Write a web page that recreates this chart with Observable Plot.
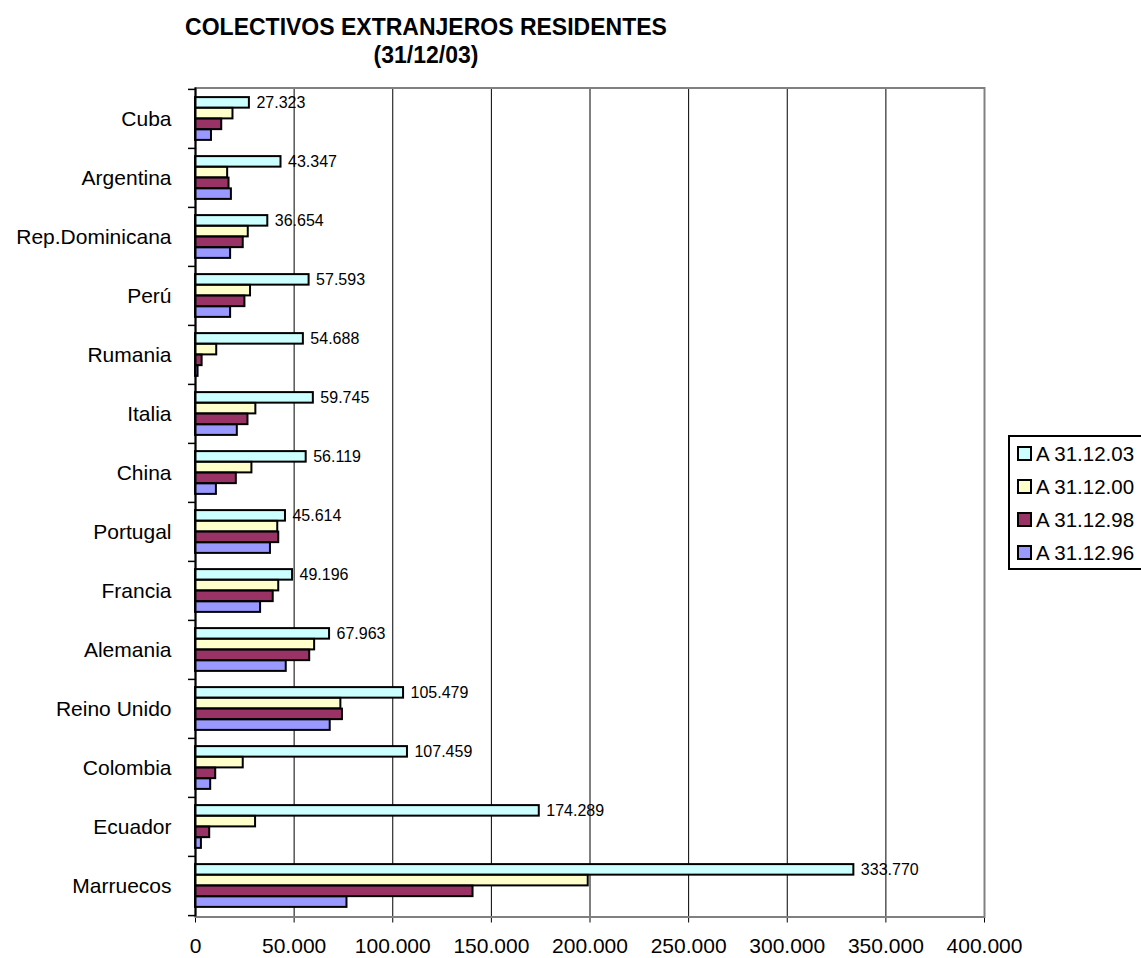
<!DOCTYPE html>
<html>
<head>
<meta charset="utf-8">
<script src="https://cdn.jsdelivr.net/npm/d3@7"></script>
<script src="https://cdn.jsdelivr.net/npm/@observablehq/plot@0.6"></script>
<style>
  html, body { margin: 0; padding: 0; background: #fff; overflow: hidden; }
  body { width: 1141px; height: 958px; position: relative; font-family: "Liberation Sans", Arial, sans-serif; }
  #title { height: 80px; box-sizing: border-box; padding-top: 14px; width: 852px; text-align: center;
           font-weight: bold; font-size: 23px; line-height: 27.5px; color: #000; }
  #legend { position: absolute; left: 1008px; top: 435px; width: 160px; height: 131px;
            border: 2px solid #000; box-sizing: content-box; background: #fff; }
  .item { height: 33px; display: flex; align-items: center; font-size: 20.5px; color: #000; }
  .sw { width: 11px; height: 11px; border: 2px solid #000; margin-left: 7px; margin-right: 4px; flex: none; }
</style>
</head>
<body>
<div id="title">COLECTIVOS EXTRANJEROS RESIDENTES<br>(31/12/03)</div>
<div id="chart"></div>
<div id="legend"></div>
<script>
// ---- data ----
const countries = ["Cuba", "Argentina", "Rep.Dominicana", "Perú", "Rumania", "Italia", "China",
  "Portugal", "Francia", "Alemania", "Reino Unido", "Colombia", "Ecuador", "Marruecos"];
const seriesNames = ["A 31.12.03", "A 31.12.00", "A 31.12.98", "A 31.12.96"];
const a2003 = [27323, 43347, 36654, 57593, 54688, 59745, 56119, 45614, 49196, 67963, 105479, 107459, 174289, 333770];
const a2000 = [19000, 16300, 26750, 27900, 10760, 30600, 28600, 41700, 42200, 60400, 73700, 24200, 30450, 199100];
const a1998 = [13300, 17000, 24200, 25050, 3350, 26600, 20700, 42200, 39400, 57900, 74500, 10250, 7200, 140700];
const a1996 = [8100, 18200, 17800, 17800, 1300, 21200, 10600, 38000, 33000, 46000, 68300, 7700, 3000, 76800];
const xTicks = [0, 50000, 100000, 150000, 200000, 250000, 300000, 350000, 400000];
const seriesColors = ["#CCFFFF", "#FFFFCC", "#993366", "#9999FF"];

const seriesValues = [a2003, a2000, a1998, a1996];
const rows = seriesNames.map((s, k) => countries.map((c, i) => ({country: c, series: s, value: seriesValues[k][i]})));

// ---- layout ----
const W = 1141, H = 878;
const mL = 195, mR = 157, mT = 7.5, mB = 41.5;
const bw = (H - mT - mB) / countries.length;   // band height
const barH = 10.75;
const groupPad = (bw - 4 * barH) / 2;
const pxPerUnit = (W - mL - mR) / 400000;
const tickLenUnits = 7 / pxPerUnit;

const fmt = d => d3.format(",")(d).replace(/,/g, ".");

const barMarks = seriesNames.map((s, k) => Plot.barX(rows[k], {
  x: "value", y: "country",
  fill: seriesColors[k], stroke: "#000", strokeWidth: 2,
  insetTop: groupPad + k * barH,
  insetBottom: bw - groupPad - (k + 1) * barH
}));

const chart = Plot.plot({
  width: W, height: H,
  marginLeft: mL, marginRight: mR, marginTop: mT, marginBottom: mB,
  style: {fontFamily: "'Liberation Sans', Arial, sans-serif", fontSize: "21px", color: "#000", background: "#fff"},
  x: {domain: [0, 400000], ticks: xTicks, tickFormat: fmt, tickSize: 6, tickPadding: 15, label: null},
  y: {domain: countries, padding: 0, tickSize: 0, tickPadding: 24, label: null},
  marks: [
    Plot.ruleX(xTicks.slice(1, -1), {stroke: "#000", strokeWidth: 1}),
    Plot.frame({stroke: "#808080", strokeWidth: 2}),
    ...barMarks,
    Plot.ruleX([0], {stroke: "#000", strokeWidth: 2}),
    Plot.ruleY(countries, {y: d => d, x1: -tickLenUnits, x2: 0, dy: -bw / 2, stroke: "#000", strokeWidth: 1.5}),
    Plot.ruleY(countries.slice(-1), {y: d => d, x1: -tickLenUnits, x2: 0, dy: bw / 2, stroke: "#000", strokeWidth: 1.5}),
    Plot.text(rows[0], {
      x: "value", y: "country", text: d => fmt(d.value),
      dx: 7, dy: -(bw / 2 - groupPad - barH / 2), textAnchor: "start", fontSize: 16, fill: "#000"
    })
  ]
});
document.getElementById("chart").appendChild(chart);

// ---- legend ----
const legend = document.getElementById("legend");
seriesNames.forEach((s, k) => {
  const it = document.createElement("div");
  it.className = "item";
  const sw = document.createElement("span");
  sw.className = "sw";
  sw.style.background = seriesColors[k];
  const tx = document.createElement("span");
  tx.textContent = s;
  it.appendChild(sw); it.appendChild(tx);
  legend.appendChild(it);
});
</script>
</body>
</html>
